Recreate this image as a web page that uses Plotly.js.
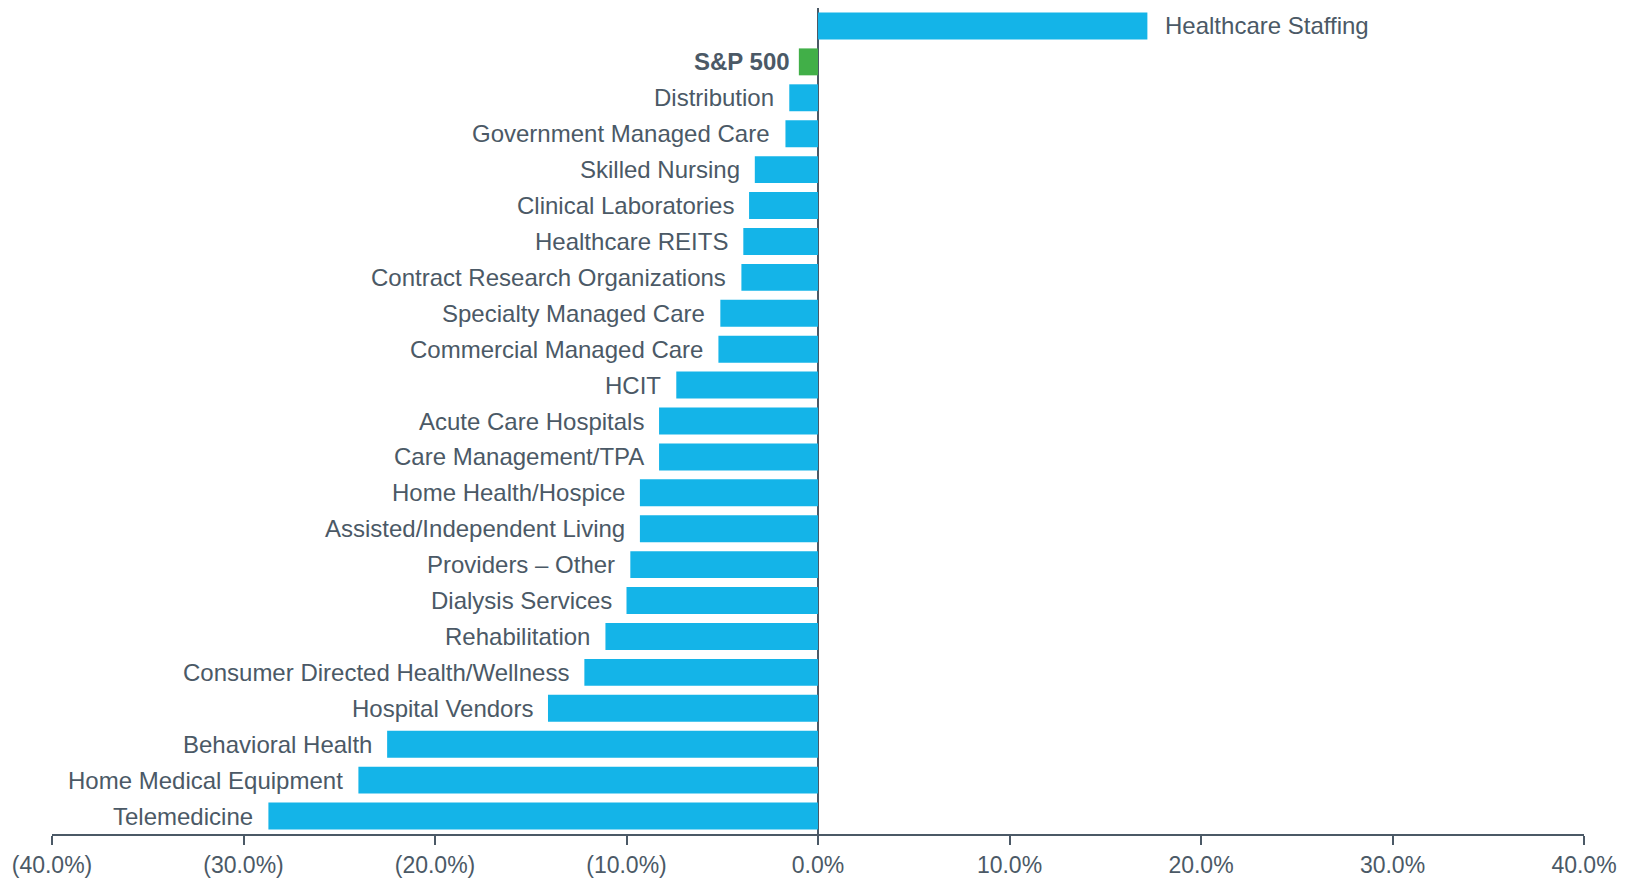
<!DOCTYPE html>
<html>
<head>
<meta charset="utf-8">
<script src="https://cdn.plot.ly/plotly-3.0.1.min.js"></script>
<style>html,body{margin:0;padding:0;background:#fff;}#chart{width:1629px;height:879px;}</style>
</head>
<body>
<div id="chart"></div>
<script>
const categories = [
  "Healthcare Staffing","S&P 500","Distribution","Government Managed Care","Skilled Nursing",
  "Clinical Laboratories","Healthcare REITS","Contract Research Organizations","Specialty Managed Care",
  "Commercial Managed Care","HCIT","Acute Care Hospitals","Care Management/TPA","Home Health/Hospice",
  "Assisted/Independent Living","Providers \u2013 Other","Dialysis Services","Rehabilitation",
  "Consumer Directed Health/Wellness","Hospital Vendors","Behavioral Health","Home Medical Equipment","Telemedicine"
];
const values = [17.2,-1.0,-1.5,-1.7,-3.3,-3.6,-3.9,-4.0,-5.1,-5.2,-7.4,-8.3,-8.3,-9.3,-9.3,-9.8,-10.0,-11.1,-12.2,-14.1,-22.5,-24.0,-28.7];
const highlight = "S&P 500";
const tickVals = [-40,-30,-20,-10,0,10,20,30,40];
const tickText = ["(40.0%)","(30.0%)","(20.0%)","(10.0%)","0.0%","10.0%","20.0%","30.0%","40.0%"];

const blue = "#14B4E8", green = "#41AF48", ink = "#4B5966";
const colors = categories.map(c => c === highlight ? green : blue);

const annotations = categories.map((c, i) => ({
  x: values[i], y: c, xref: "x", yref: "y",
  text: c === highlight ? "<b>" + c + "</b>" : c,
  showarrow: false,
  xanchor: values[i] >= 0 ? "left" : "right",
  xshift: values[i] >= 0 ? 16 : (c === highlight ? -7 : -13),
  font: {family: "Liberation Sans, Arial, sans-serif", size: 24, color: ink}
}));

Plotly.newPlot("chart", [{
  type: "bar", orientation: "h",
  x: values, y: categories,
  marker: {color: colors},
  hoverinfo: "x+y"
}], {
  width: 1629, height: 879,
  margin: {l: 52, r: 45, t: 8, b: 45},
  paper_bgcolor: "#fff", plot_bgcolor: "#fff",
  bargap: 0.25,
  showlegend: false,
  font: {family: "Liberation Sans, Arial, sans-serif", color: ink},
  xaxis: {
    range: [-40, 40], tickvals: tickVals, ticktext: tickText,
    showgrid: false, zeroline: true, zerolinecolor: ink, zerolinewidth: 2,
    showline: true, linecolor: ink, linewidth: 2,
    ticks: "outside", ticklen: 9, tickwidth: 2, tickcolor: ink,
    tickfont: {size: 23, color: ink}, fixedrange: true
  },
  yaxis: {
    type: "category", autorange: "reversed", showticklabels: false,
    showgrid: false, zeroline: false, showline: false, ticks: "", fixedrange: true
  },
  annotations: annotations
}, {displayModeBar: false, staticPlot: true});
</script>
</body>
</html>
